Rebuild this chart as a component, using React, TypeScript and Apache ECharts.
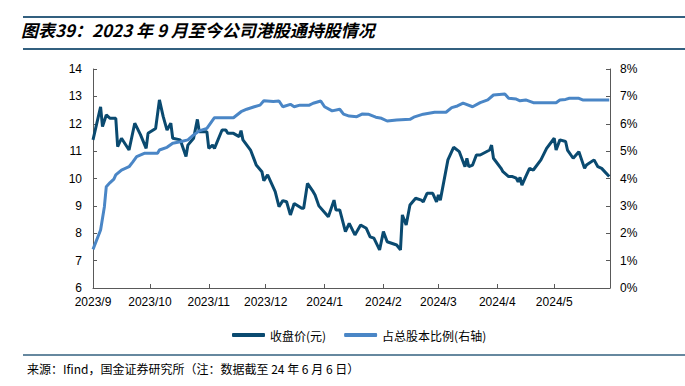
import React, { useEffect, useRef } from "react";
import * as echarts from "echarts";

const startDate = "2023-09-01";
const endDate = "2024-05-30";

const monthTicks = [
  "2023-09-01", "2023-10-01", "2023-11-01", "2023-12-01", "2024-01-01",
  "2024-02-01", "2024-03-01", "2024-04-01", "2024-05-01",
];

const priceDates = [
  "2023-09-01", "2023-09-05", "2023-09-06", "2023-09-08", "2023-09-10", "2023-09-13", "2023-09-14", "2023-09-16",
  "2023-09-20", "2023-09-23", "2023-09-26", "2023-09-29", "2023-09-30", "2023-10-04", "2023-10-06", "2023-10-08",
  "2023-10-10", "2023-10-12", "2023-10-13", "2023-10-17", "2023-10-20", "2023-10-21", "2023-10-24", "2023-10-26",
  "2023-10-27", "2023-10-31", "2023-11-01", "2023-11-03", "2023-11-04", "2023-11-08", "2023-11-10", "2023-11-11",
  "2023-11-14", "2023-11-17", "2023-11-18", "2023-11-19", "2023-11-23", "2023-11-25", "2023-11-26", "2023-11-29",
  "2023-11-30", "2023-12-02", "2023-12-06", "2023-12-08", "2023-12-10", "2023-12-12", "2023-12-14", "2023-12-16",
  "2023-12-20", "2023-12-21", "2023-12-23", "2023-12-26", "2023-12-27", "2023-12-29", "2024-01-03", "2024-01-06",
  "2024-01-07", "2024-01-09", "2024-01-12", "2024-01-14", "2024-01-17", "2024-01-20", "2024-01-23", "2024-01-25",
  "2024-01-27", "2024-01-30", "2024-02-01", "2024-02-03", "2024-02-08", "2024-02-10", "2024-02-11", "2024-02-13",
  "2024-02-15", "2024-02-18", "2024-02-21", "2024-02-22", "2024-02-24", "2024-02-27", "2024-02-29", "2024-03-01",
  "2024-03-02", "2024-03-06", "2024-03-09", "2024-03-12", "2024-03-15", "2024-03-16", "2024-03-17", "2024-03-19",
  "2024-03-21", "2024-03-23", "2024-03-28", "2024-03-29", "2024-03-30", "2024-04-03", "2024-04-04", "2024-04-07",
  "2024-04-09", "2024-04-11", "2024-04-12", "2024-04-13", "2024-04-14", "2024-04-16", "2024-04-18", "2024-04-20",
  "2024-04-24", "2024-04-27", "2024-05-01", "2024-05-02", "2024-05-04", "2024-05-07", "2024-05-08", "2024-05-11",
  "2024-05-14", "2024-05-17", "2024-05-18", "2024-05-22", "2024-05-24", "2024-05-26", "2024-05-30",
];
const priceValues = [
  11.41, 12.62, 11.9, 12.32, 12.2, 12.2, 11.16, 11.47,
  11.04, 12.02, 11.6, 11.1, 11.65, 11.83, 12.87, 12.26,
  11.77, 12.02, 11.47, 11.41, 10.8, 11.22, 11.47, 12.16,
  11.71, 11.71, 11.1, 11.22, 11.1, 11.77, 11.77, 11.65,
  11.65, 11.53, 11.75, 11.41, 11.04, 10.68, 10.49, 10.25,
  9.92, 10.13, 9.52, 8.97, 9.19, 9.15, 8.67, 9.09,
  8.91, 8.91, 9.82, 9.52, 9.4, 9.0, 8.6, 9.21,
  8.85, 8.85, 8.06, 8.36, 7.94, 8.3, 8.18, 7.87,
  7.82, 7.39, 8.06, 7.69, 7.57, 7.39, 8.67, 8.3,
  9.03, 9.28, 9.21, 9.15, 9.46, 9.46, 9.15, 9.4,
  9.21, 10.68, 11.14, 10.98, 10.43, 10.74, 10.43, 10.49,
  10.86, 10.86, 11.04, 11.22, 10.74, 10.37, 10.25, 10.07,
  10.07, 10.01, 9.88, 10.04, 9.76, 10.07, 10.37, 10.31,
  10.68, 11.1, 11.47, 11.04, 11.41, 11.35, 11.04, 10.74,
  10.98, 10.37, 10.49, 10.68, 10.43, 10.37, 10.07,
];

const ratioDates = [
  "2023-09-01", "2023-09-05", "2023-09-07", "2023-09-08", "2023-09-10", "2023-09-12", "2023-09-13", "2023-09-16",
  "2023-09-20", "2023-09-22", "2023-09-24", "2023-09-28", "2023-10-05", "2023-10-06", "2023-10-10", "2023-10-13",
  "2023-10-17", "2023-10-21", "2023-10-24", "2023-10-27", "2023-10-31", "2023-11-04", "2023-11-14", "2023-11-18",
  "2023-11-21", "2023-11-25", "2023-11-28", "2023-11-30", "2023-12-05", "2023-12-08", "2023-12-10", "2023-12-14",
  "2023-12-16", "2023-12-19", "2023-12-24", "2023-12-26", "2023-12-30", "2024-01-01", "2024-01-05", "2024-01-09",
  "2024-01-11", "2024-01-14", "2024-01-18", "2024-01-21", "2024-01-24", "2024-01-28", "2024-01-31", "2024-02-03",
  "2024-02-08", "2024-02-15", "2024-02-17", "2024-02-22", "2024-02-28", "2024-03-05", "2024-03-08", "2024-03-11",
  "2024-03-14", "2024-03-19", "2024-03-23", "2024-03-27", "2024-03-30", "2024-04-05", "2024-04-07", "2024-04-11",
  "2024-04-13", "2024-04-16", "2024-04-20", "2024-05-02", "2024-05-04", "2024-05-07", "2024-05-09", "2024-05-14",
  "2024-05-16", "2024-05-30",
];
const ratioValues = [
  1.41, 2.12, 2.97, 3.7, 3.85, 3.98, 4.13, 4.31,
  4.43, 4.61, 4.8, 4.92, 4.92, 5.04, 5.14, 5.29,
  5.34, 5.41, 5.59, 5.74, 5.83, 6.22, 6.22, 6.44,
  6.53, 6.62, 6.68, 6.84, 6.81, 6.83, 6.62, 6.71,
  6.62, 6.68, 6.68, 6.75, 6.83, 6.62, 6.47, 6.53,
  6.35, 6.28, 6.26, 6.36, 6.35, 6.24, 6.2, 6.1,
  6.14, 6.16, 6.24, 6.35, 6.42, 6.42, 6.59, 6.65,
  6.75, 6.62, 6.77, 6.87, 7.05, 7.09, 6.93, 6.9,
  6.84, 6.87, 6.77, 6.77, 6.87, 6.89, 6.93, 6.93,
  6.87, 6.87,
];

const seriesNames = ["收盘价(元)", "占总股本比例(右轴)"];
const titleText = "图表39：2023 年 9 月至今公司港股通持股情况";
const sourceText = "来源：Ifind，国金证券研究所（注：数据截至 24 年 6 月 6 日）";

const DAY = 86400000;
const toUTC = (s: string) => {
  const [y, m, d] = s.split("-").map(Number);
  return Date.UTC(y, m - 1, d);
};
const dayIndex = (s: string) => Math.round((toUTC(s) - toUTC(startDate)) / DAY);
const dayLabel = (v: number) => {
  const d = new Date(toUTC(startDate) + Math.round(v) * DAY);
  return `${d.getUTCFullYear()}/${d.getUTCMonth() + 1}`;
};

export default function App() {
  const ref = useRef<HTMLDivElement>(null);
  useEffect(() => {
    if (!ref.current) return;
    const chart = echarts.init(ref.current, null, { renderer: "svg" });
    const tickDays = monthTicks.map(dayIndex);
    const axisColor = "#595959";
    const labelFont = "'Liberation Sans', Arial, sans-serif";
    const cjkFont = "'Noto Sans CJK SC', sans-serif";
    chart.setOption({
      animation: false,
      backgroundColor: "#ffffff",
      title: {
        text: titleText,
        left: 21,
        top: 21,
        padding: 0,
        textStyle: {
          fontSize: 17,
          fontWeight: "bold",
          fontStyle: "italic",
          fontFamily: cjkFont,
          color: "#000000",
        },
      },
      graphic: [
        { type: "line", shape: { x1: 23, y1: 17, x2: 685, y2: 17 }, style: { stroke: "#33607f", lineWidth: 2 } },
        { type: "line", shape: { x1: 23, y1: 49, x2: 685, y2: 49 }, style: { stroke: "#33607f", lineWidth: 2 } },
        { type: "line", shape: { x1: 23, y1: 355, x2: 685, y2: 355 }, style: { stroke: "#33607f", lineWidth: 1.5 } },
        {
          type: "text",
          left: 27,
          top: 362,
          style: { text: sourceText, fontSize: 12, fontFamily: cjkFont, fill: "#000000" },
        },
      ],
      legend: {
        left: 227,
        top: 324,
        itemWidth: 33,
        itemHeight: 4,
        itemGap: 18,
        icon: "roundRect",
        textStyle: { fontSize: 12, fontFamily: cjkFont, color: "#000000" },
        data: seriesNames,
      },
      grid: { left: 93, right: 75, top: 69, bottom: 98, containLabel: false },
      xAxis: {
        type: "value",
        min: 0,
        max: dayIndex(endDate) + 0.4,
        axisLine: { show: true, onZero: false, lineStyle: { color: axisColor, width: 1 } },
        axisTick: { show: true, inside: true, length: 4, customValues: tickDays, lineStyle: { color: axisColor } },
        axisLabel: {
          customValues: tickDays,
          margin: 8,
          fontSize: 12,
          fontFamily: labelFont,
          color: "#000000",
          formatter: (v: number) => dayLabel(v),
        },
        splitLine: { show: false },
      },
      yAxis: [
        {
          type: "value",
          min: 6,
          max: 14,
          interval: 1,
          position: "left",
          axisLine: { show: true, lineStyle: { color: axisColor, width: 1 } },
          axisTick: { show: true, inside: true, length: 4, lineStyle: { color: axisColor } },
          axisLabel: { margin: 11, fontSize: 12, fontFamily: labelFont, color: "#000000" },
          splitLine: { show: false },
        },
        {
          type: "value",
          min: 0,
          max: 8,
          interval: 1,
          position: "right",
          axisLine: { show: true, lineStyle: { color: axisColor, width: 1 } },
          axisTick: { show: true, inside: true, length: 4, lineStyle: { color: axisColor } },
          axisLabel: { margin: 10, fontSize: 12, fontFamily: labelFont, color: "#000000", formatter: "{value}%" },
          splitLine: { show: false },
        },
      ],
      series: [
        {
          name: seriesNames[0],
          type: "line",
          yAxisIndex: 0,
          showSymbol: false,
          symbol: "none",
          color: "#0a4a70",
          lineStyle: { width: 3, color: "#0a4a70" },
          data: priceDates.map((d, i) => [dayIndex(d), priceValues[i]]),
        },
        {
          name: seriesNames[1],
          type: "line",
          yAxisIndex: 1,
          showSymbol: false,
          symbol: "none",
          color: "#4a86c6",
          lineStyle: { width: 3, color: "#4a86c6" },
          data: ratioDates.map((d, i) => [dayIndex(d), ratioValues[i]]),
        },
      ],
    });
    return () => chart.dispose();
  }, []);
  return (
    <div
      ref={ref}
      style={{ position: "absolute", left: 0, top: 0, width: 685, height: 386, background: "#fff" }}
    />
  );
}
